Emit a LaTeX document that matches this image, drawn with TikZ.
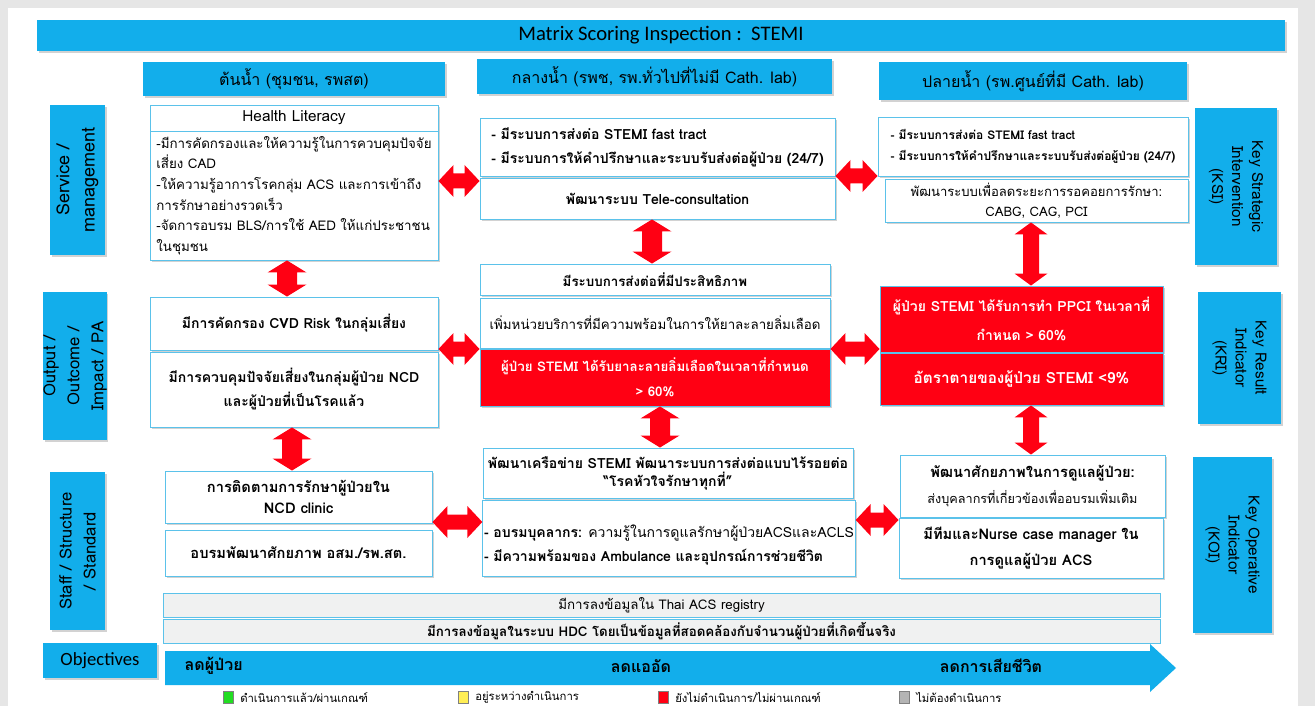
\documentclass[tikz,border=0pt]{standalone}
\usepackage{fontspec}
\setmainfont[Script=Thai]{Loma}
\newfontfamily\latinsans{Carlito}
\usetikzlibrary{shadows,calc}

\definecolor{sky}{HTML}{12AEEB}
\definecolor{alarm}{HTML}{FF0013}
\definecolor{edge}{HTML}{5BC2EA}
\definecolor{barfill}{HTML}{F0F1F1}
\definecolor{bggray}{HTML}{E6E6E6}
\definecolor{okgreen}{HTML}{22DD22}
\definecolor{waityellow}{HTML}{FFEE55}
\definecolor{skipgray}{HTML}{B4B4B4}

% box placed by its corners, given in pixel units
\newcommand\cell[7]{\node[#1,minimum width={(#5-#3)*0.75pt},minimum height={(#6-#4)*0.75pt}] (#2) at ({(#3+#5)/2},{(#4+#6)/2}) {#7};}
% same, for a box whose text is turned by #8 degrees
\newcommand\turncell[8]{\node[#1,rotate=#8,minimum width={(#6-#4)*0.75pt},minimum height={(#5-#3)*0.75pt}] (#2) at ({(#3+#5)/2},{(#4+#6)/2}) {#7};}
% red double block arrow between two anchors, horizontal at height #3
\newcommand\hlink[5]{\fill[alarm] (#1 |- 0,#3) -- ++(15,-#4) -- ++(0,{#4-#5}) -- ($(#2 |- 0,#3)+(-15,-#5)$) -- ++(0,{#5-#4}) -- (#2 |- 0,#3) -- ++(-15,#4) -- ++(0,{#5-#4}) -- ($(#1 |- 0,#3)+(15,#5)$) -- ++(0,{#4-#5}) -- cycle;}
% red double block arrow between two anchors, vertical at x #3
\newcommand\vlink[5]{\fill[alarm] (#3,0 |- #1) -- ++(#4,12) -- ++({#5-#4},0) -- ($(#3,0 |- #2)+(#5,-12)$) -- ++({#4-#5},0) -- (#3,0 |- #2) -- ++(-#4,-12) -- ++({#4-#5},0) -- ($(#3,0 |- #1)+(-#5,12)$) -- ++({#5-#4},0) -- cycle;}

\begin{document}
\begin{tikzpicture}[x=0.75pt,y=-0.75pt,
  shade/.style={drop shadow={opacity=0.35,shadow xshift=1.2pt,shadow yshift=-1.2pt}},
  lbl/.style={fill=sky,inner sep=0pt,align=center,shade},
  cellbox/.style={draw=edge,line width=0.7pt,fill=white,inner sep=1pt,align=center,shade},
  hot/.style={cellbox,fill=alarm,text=white,font=\bfseries\fontsize{10}{19}\selectfont},
  bar/.style={draw=edge,line width=0.7pt,fill=barfill,inner sep=0pt,align=center},
  chip/.style={draw=gray,line width=0.6pt,minimum width=7.5pt,minimum height=8.5pt,inner sep=0pt},
  legtext/.style={anchor=west,inner sep=0pt,font=\fontsize{8.5}{9}\selectfont}]
\useasboundingbox (0,0) rectangle (1315,706);
\fill[bggray] (0,0) rectangle (1315,706);
\fill[white] (8,8) rectangle (1298,706);

% title and column headings
\cell{lbl,font=\latinsans\fontsize{15.5}{18}\selectfont}{title}{37}{20}{1285}{51}{Matrix Scoring Inspection :\ \ STEMI}
\cell{lbl,font=\fontsize{12}{14}\selectfont}{hdL}{143}{62}{445}{96}{ต้นน้ำ (ชุมชน, รพสต)}
\cell{lbl,font=\fontsize{12}{14}\selectfont}{hdM}{477}{59}{832}{94}{กลางน้ำ (รพช, รพ.ทั่วไปที่ไม่มี Cath. lab)}
\cell{lbl,font=\fontsize{12}{14}\selectfont}{hdR}{879}{62}{1187}{100}{ปลายน้ำ (รพ.ศูนย์ที่มี Cath. lab)}

% row labels, left
\turncell{lbl,font=\fontsize{13.5}{19}\selectfont}{rowS}{50}{105}{105}{255}{Service /\\management}{90}
\turncell{lbl,font=\fontsize{12.5}{18}\selectfont}{rowO}{47}{292}{103}{440}{Output /\\Outcome /\\Impact / PA}{90}
\turncell{lbl,font=\fontsize{12.5}{18}\selectfont}{rowT}{50}{472}{105}{630}{Staff / Structure\\/ Standard}{90}
\cell{lbl,font=\latinsans\fontsize{14}{16}\selectfont}{obj}{43}{643}{157}{678}{Objectives}

% row labels, right
\turncell{lbl,font=\fontsize{11.5}{15}\selectfont}{ksi}{1195}{108}{1277}{265}{Key Strategic\\Intervention\\(KSI)}{-90}
\turncell{lbl,font=\fontsize{11.5}{15}\selectfont}{kri}{1198}{292}{1281}{424}{Key Result\\Indicator\\(KRI)}{-90}
\turncell{lbl,font=\fontsize{11.5}{15}\selectfont}{koi}{1193}{457}{1272}{633}{Key Operative\\Indicator\\(KOI)}{-90}

% upstream column
\cell{cellbox,font=\fontsize{11.5}{14}\selectfont}{hlhead}{150}{105}{438}{131}{Health Literacy}
\cell{cellbox,align=left,font=\fontsize{10}{15.4}\selectfont}{hlbody}{150}{131}{438}{260}{-มีการคัดกรองและให้ความรู้ในการควบคุมปัจจัย\\เสี่ยง CAD\\-ให้ความรู้อาการโรคกลุ่ม ACS และการเข้าถึง\\การรักษาอย่างรวดเร็ว\\-จัดการอบรม BLS/การใช้ AED ให้แก่ประชาชน\\ในชุมชน}
\cell{cellbox,font=\bfseries\fontsize{10.5}{18}\selectfont}{cvd}{150}{297}{438}{350}{มีการคัดกรอง CVD Risk ในกลุ่มเสี่ยง}
\cell{cellbox,font=\bfseries\fontsize{10.5}{18}\selectfont}{ncd}{150}{352}{438}{427}{มีการควบคุมปัจจัยเสี่ยงในกลุ่มผู้ป่วย NCD\\และผู้ป่วยที่เป็นโรคแล้ว}
\cell{cellbox,font=\bfseries\fontsize{11}{16}\selectfont}{clinic}{165}{471}{432}{523}{การติดตามการรักษาผู้ป่วยใน\\NCD clinic}
\cell{cellbox,font=\bfseries\fontsize{11}{16}\selectfont}{vhv}{165}{530}{432}{576}{อบรมพัฒนาศักยภาพ อสม./รพ.สต.}

% midstream column
\cell{cellbox,align=left,font=\bfseries\fontsize{10.5}{18}\selectfont}{mA}{480}{118}{835}{176}{- มีระบบการส่งต่อ STEMI fast tract\\- มีระบบการให้คำปรึกษาและระบบรับส่งต่อผู้ป่วย (24/7)}
\cell{cellbox,font=\bfseries\fontsize{10.5}{14}\selectfont}{mB}{480}{178}{835}{219}{พัฒนาระบบ Tele-consultation}
\cell{cellbox,font=\bfseries\fontsize{10}{13}\selectfont}{mC}{480}{264}{830}{295}{มีระบบการส่งต่อที่มีประสิทธิภาพ}
\cell{cellbox,font=\fontsize{10}{14}\selectfont}{mD}{480}{298}{830}{348}{เพิ่มหน่วยบริการที่มีความพร้อมในการให้ยาละลายลิ่มเลือด}
\cell{hot}{mE}{480}{349}{830}{406}{ผู้ป่วย STEMI ได้รับยาละลายลิ่มเลือดในเวลาที่กำหนด\\> 60\%}
\cell{cellbox,font=\bfseries\fontsize{10.5}{13.5}\selectfont}{mF}{483}{448}{853}{498}{พัฒนาเครือข่าย STEMI พัฒนาระบบการส่งต่อแบบไร้รอยต่อ\\“โรคหัวใจรักษาทุกที่”}
\cell{cellbox,align=left,font=\fontsize{10.5}{18}\selectfont}{mG}{485}{500}{853}{576}{\rule{0pt}{20pt}\textbf{- อบรมบุคลากร:} ความรู้ในการดูแลรักษาผู้ป่วยACSและACLS\\\textbf{- มีความพร้อมของ Ambulance และอุปกรณ์การช่วยชีวิต}}

% downstream column
\cell{cellbox,align=left,font=\bfseries\fontsize{9}{16}\selectfont}{rA}{878}{117}{1188}{176}{- มีระบบการส่งต่อ STEMI fast tract\\- มีระบบการให้คำปรึกษาและระบบรับส่งต่อผู้ป่วย (24/7)}
\cell{cellbox,font=\fontsize{9.8}{15}\selectfont}{rB}{885}{179}{1188}{222}{พัฒนาระบบเพื่อลดระยะการรอคอยการรักษา:\\CABG, CAG, PCI}
\cell{hot,font=\bfseries\fontsize{10.5}{22}\selectfont}{rC}{880}{286}{1163}{352}{ผู้ป่วย STEMI ได้รับการทำ PPCI ในเวลาที่\\กำหนด > 60\%}
\cell{hot,font=\bfseries\fontsize{11.5}{14}\selectfont}{rD}{880}{353}{1163}{405}{อัตราตายของผู้ป่วย STEMI <9\%}
\cell{cellbox,font=\fontsize{9.5}{19.5}\selectfont}{rE}{900}{455}{1165}{517}{{\bfseries\fontsize{11}{19.5}\selectfont พัฒนาศักยภาพในการดูแลผู้ป่วย:}\\ส่งบุคลากรที่เกี่ยวข้องเพื่ออบรมเพิ่มเติม}
\cell{cellbox,font=\bfseries\fontsize{11}{19.5}\selectfont}{rF}{899}{518}{1163}{578}{มีทีมและNurse case manager ใน\\การดูแลผู้ป่วย ACS}

% data recording bars
\cell{bar,font=\fontsize{10}{12}\selectfont}{barA}{163}{593}{1160}{617}{มีการลงข้อมูลใน Thai ACS registry}
\cell{bar,font=\bfseries\fontsize{10}{12}\selectfont}{barB}{163}{619}{1160}{643}{มีการลงข้อมูลในระบบ HDC โดยเป็นข้อมูลที่สอดคล้องกับจำนวนผู้ป่วยที่เกิดขึ้นจริง}

% objectives arrow
\fill[sky] (165,651) -- (1150,651) -- (1150,644) -- (1176,668) -- (1150,692) -- (1150,685) -- (165,685) -- cycle;
\node[font=\bfseries\fontsize{12}{14}\selectfont,anchor=west] (goalA) at (180,666) {ลดผู้ป่วย};
\node[font=\bfseries\fontsize{12}{14}\selectfont] (goalB) at (641,666) {ลดแออัด};
\node[font=\bfseries\fontsize{12}{14}\selectfont] (goalC) at (991,666) {ลดการเสียชีวิต};

% links between stages
\hlink{hlbody.east}{mA.west}{181}{16}{7.5}
\hlink{mA.east}{rA.west}{176}{16}{7.5}
\hlink{ncd.east}{mE.west}{349}{16}{7.5}
\hlink{mE.east}{rC.west}{349}{16}{7.5}
\hlink{clinic.east}{mG.west}{522}{16}{7.5}
\hlink{mG.east}{rF.west}{520}{16}{7.5}
\vlink{hlbody.south}{cvd.north}{287}{19.5}{10}
\vlink{ncd.south}{clinic.north}{292}{19.5}{10}
\vlink{mB.south}{mC.north}{652}{19.5}{10}
\vlink{mE.south}{mF.north}{660}{19.5}{10}
\vlink{rB.south}{rC.north}{1031}{16.5}{8}
\vlink{rD.south}{rE.north}{1031}{16.5}{8}

% legend
\node[chip,fill=okgreen] (keyA) at (228,697.5) {};
\node[legtext] (keyAtxt) at (240,697.5) {ดำเนินการแล้ว/ผ่านเกณฑ์};
\node[chip,fill=waityellow] (keyB) at (463,697.5) {};
\node[legtext] (keyBtxt) at (475,697.5) {อยู่ระหว่างดำเนินการ};
\node[chip,fill=alarm] (keyC) at (663,697.5) {};
\node[legtext] (keyCtxt) at (675,697.5) {ยังไม่ดำเนินการ/ไม่ผ่านเกณฑ์};
\node[chip,fill=skipgray] (keyD) at (904,697.5) {};
\node[legtext] (keyDtxt) at (916,697.5) {ไม่ต้องดำเนินการ};
\end{tikzpicture}
\end{document}
